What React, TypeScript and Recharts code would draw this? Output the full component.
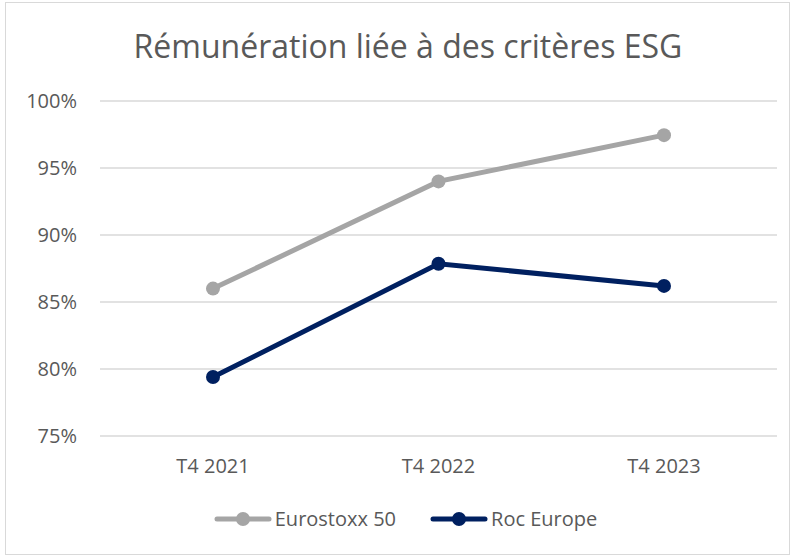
import { LineChart, Line, XAxis, YAxis, CartesianGrid, Legend } from 'recharts';

const categories = ['T4 2021', 'T4 2022', 'T4 2023'];
const eurostoxx50 = [86.0, 94.0, 97.45];
const rocEurope = [79.4, 87.85, 86.2];
const yTicks = [75, 80, 85, 90, 95, 100];

const series = [
  { key: 'eurostoxx', name: 'Eurostoxx 50', color: '#A5A5A5' },
  { key: 'roc', name: 'Roc Europe', color: '#002060' },
];

const data = categories.map((cat, i) => ({
  cat,
  eurostoxx: eurostoxx50[i],
  roc: rocEurope[i],
}));

const FONT = '"Open Sans", sans-serif';
const TEXT = '#595959';

// legend drawn like the Excel one: line with a dot in the middle
const LegendContent = () => (
  <div
    style={{
      display: 'flex', justifyContent: 'center', gap: 34, paddingLeft: 34, height: 24,
      fontFamily: FONT, fontSize: 20, color: TEXT, lineHeight: '24px',
    }}
  >
    {series.map((s) => (
      <div key={s.key} style={{ display: 'flex', alignItems: 'center' }}>
        <svg width={58} height={16} style={{ marginRight: 3 }}>
          <line x1={3} y1={8} x2={55} y2={8} stroke={s.color} strokeWidth={5} strokeLinecap="round" />
          <circle cx={29} cy={8} r={7} fill={s.color} />
        </svg>
        <span>{s.name}</span>
      </div>
    ))}
  </div>
);

export default function App() {
  return (
    <div style={{ position: 'absolute', left: 0, top: 0, width: 794, height: 558, background: '#fff' }}>
      <div
        style={{
          position: 'absolute', left: 5, top: 2, width: 785, height: 553,
          border: '1px solid #D9D9D9', boxSizing: 'border-box',
        }}
      />
      <div
        style={{
          position: 'absolute', left: 0, top: 24, width: 816, textAlign: 'center',
          fontFamily: FONT, fontSize: 32, color: TEXT, whiteSpace: 'nowrap',
        }}
      >
        Rémunération liée à des critères ESG
      </div>
      <LineChart
        width={794}
        height={558}
        data={data}
        margin={{ top: 101, right: 17, left: 0, bottom: 68 }}
        style={{ position: 'absolute', left: 0, top: 0 }}
      >
        <CartesianGrid vertical={false} stroke="#D9D9D9" strokeWidth={1.5} />
        <XAxis
          dataKey="cat"
          height={30}
          padding={{ left: 113, right: 113 }}
          axisLine={false}
          tickLine={false}
          tickSize={6}
          tickMargin={17}
          tick={{ fill: TEXT, fontSize: 20, fontFamily: FONT }}
        />
        <YAxis
          width={100}
          domain={[75, 100]}
          ticks={yTicks}
          axisLine={false}
          tickLine={false}
          tickSize={6}
          tickMargin={17}
          tickFormatter={(v) => `${v}%`}
          tick={{ fill: TEXT, fontSize: 20, fontFamily: FONT }}
        />
        <Legend
          verticalAlign="bottom"
          height={24}
          wrapperStyle={{ bottom: 27 }}
          content={<LegendContent />}
        />
        {series.map((s) => (
          <Line
            key={s.key}
            dataKey={s.key}
            name={s.name}
            stroke={s.color}
            strokeWidth={5}
            dot={{ r: 7, fill: s.color, stroke: s.color, strokeWidth: 0 }}
            isAnimationActive={false}
          />
        ))}
      </LineChart>
    </div>
  );
}
